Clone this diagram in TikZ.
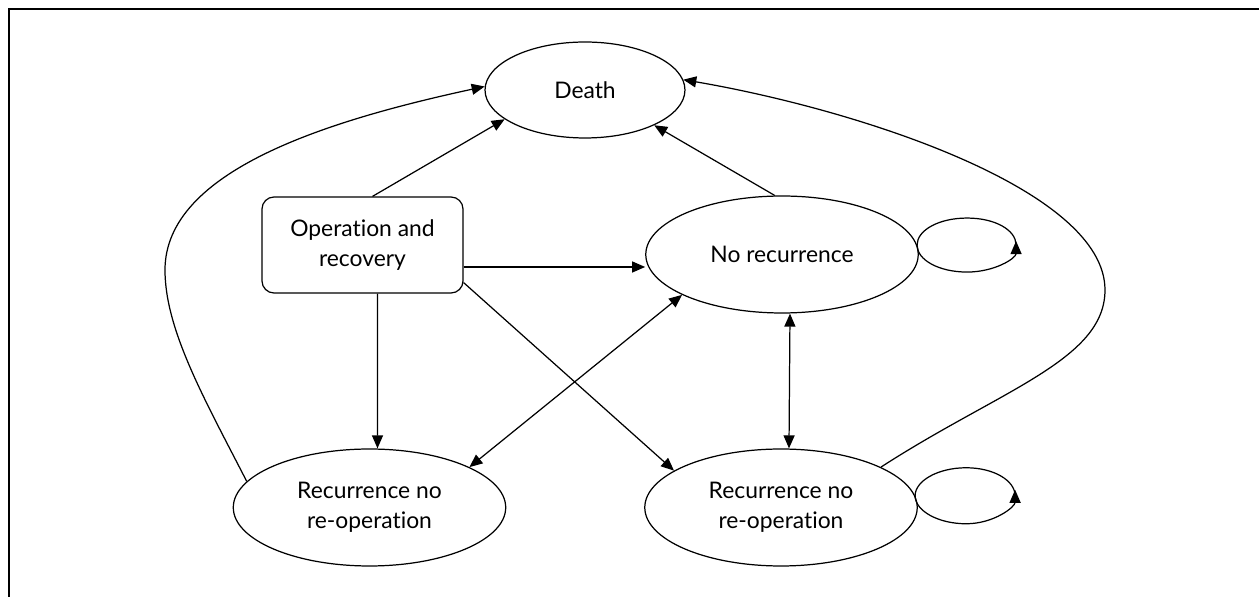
\documentclass[tikz,border=0pt]{standalone}
\usepackage{fontspec}
\setmainfont{Lato}[Ligatures=NoCommon]
\usetikzlibrary{shapes.geometric,arrows.meta}

\begin{document}
\begin{tikzpicture}[x=0.02cm,y=-0.02cm,
    every node/.style={font=\fontsize{13}{17}\selectfont, align=center, inner sep=0pt},
    state/.style={draw, ellipse, line width=0.7pt, minimum width=5.45cm, minimum height=2.34cm},
    startbox/.style={draw, rectangle, rounded corners=6.8pt, line width=0.7pt, minimum width=4.02cm, minimum height=1.92cm},
    arr/.style={-{Triangle[length=2.6mm,width=2.2mm]}, line width=0.7pt},
    dblarr/.style={{Triangle[length=2.6mm,width=2.2mm]}-{Triangle[length=2.6mm,width=2.2mm]}, line width=0.7pt}]
    \useasboundingbox (0,0) rectangle (1259,597);

    % Frame (left and top edges)
    \draw[line width=1.2pt] (9,597) -- (9,9) -- (1259,9);

    % States
    \node[state, minimum width=4cm, minimum height=1.92cm] (death) at (585,90) {Death};
    \node[startbox] (oper) at (362.5,245) {Operation and\\recovery};
    \node[state] (norec) at (782,254.5) {No recurrence};
    \node[state] (recl) at (369.5,507.5) {Recurrence no\\re-operation};
    \node[state] (recr) at (781,507.5) {Recurrence no\\re-operation};

    % Transitions from operation
    \draw[arr] ([xshift=0.2cm]oper.north) -- (death.200);
    \draw[arr] ([yshift=-0.44cm]oper.east) -- ([yshift=-0.44cm]oper.east -| norec.west);
    \draw[arr] ([xshift=0.3cm]oper.south) -- ([xshift=0.16cm]recl.north);
    \draw[arr] ([yshift=0.22cm]oper.south east) -- (recr.161);

    % Transitions between states
    \draw[arr] (norec.97) -- (death.333);
    \draw[dblarr] (norec.202) -- (recl.22);
    \draw[dblarr] ([xshift=0.16cm]norec.south) -- ([xshift=0.16cm]recr.north);

    % Transitions to death
    \draw[arr] (recl.168) .. controls (205,400) and (165,330) .. (165,270)
        .. controls (165,170) and (330,120) .. (death.178);
    \draw[arr] (recr.22) .. controls (1000,390) and (1105,360) .. (1105,290)
        .. controls (1105,190) and (860,110) .. (death.6);

    % Self loops
    \draw[line width=0.7pt] (norec.4) .. controls +(0,-15) and +(-28,0) .. ++(50,-27)
        .. controls +(28,0) and +(0,-15) .. ++(49,27);
    \draw[arr] (norec.4) .. controls +(0,15) and +(-28,0) .. ++(50,27)
        .. controls +(28,0) and +(0,17) .. ++(49,-31);
    \draw[line width=0.7pt] (recr.5) .. controls +(0,-15) and +(-28,0) .. ++(51,-28)
        .. controls +(28,0) and +(0,-15) .. ++(49,28);
    \draw[arr] (recr.5) .. controls +(0,15) and +(-28,0) .. ++(51,28)
        .. controls +(28,0) and +(0,17) .. ++(49,-34);
\end{tikzpicture}
\end{document}
